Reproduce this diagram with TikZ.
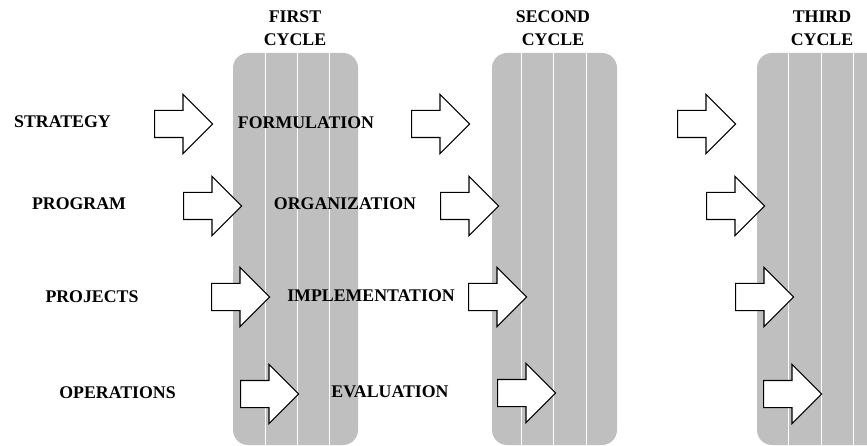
\documentclass[tikz,border=0pt]{standalone}
\usepackage{fontspec}
\setmainfont{Liberation Serif}
\usetikzlibrary{shapes.arrows}

\begin{document}
\begin{tikzpicture}[x=1pt,y=-1pt,
    band/.style={rectangle,rounded corners=15pt,fill=gray!50,
      minimum width=125pt,minimum height=392pt,inner sep=0pt},
    divider/.style={white,line width=0.9pt},
    blockarrow/.style={single arrow,draw=black,fill=white,line width=1.1pt,
      inner sep=0pt,text height=13pt,text depth=13pt,minimum height=58pt,
      single arrow head extend=16pt,single arrow tip angle=90,anchor=tail},
    lbl/.style={font=\fontsize{17.8}{23}\selectfont\bfseries,inner sep=0pt,anchor=base},
    head/.style={font=\fontsize{17.8}{23}\selectfont\bfseries,inner sep=0pt,align=center}]
\useasboundingbox (0,0) rectangle (867,446);
            % Cycles
\node[band] (c1) at (295.5,249) {};
\node[band] (c2) at (554.5,249) {};
\node[band] (c3) at (819.5,249) {};
\draw[divider] (265,53) -- (265,445);
\draw[divider] (297,53) -- (297,445);
\draw[divider] (329,53) -- (329,445);
\draw[divider] (521,53) -- (521,445);
\draw[divider] (553,53) -- (553,445);
\draw[divider] (586,53) -- (586,445);
\draw[divider] (788,53) -- (788,445);
\draw[divider] (821,53) -- (821,445);
\draw[divider] (853,53) -- (853,445);
\node[head] (h1) at (295,28) {FIRST\\CYCLE};
\node[head] (h2) at (553,28) {SECOND\\CYCLE};
\node[head] (h3) at (822,28) {THIRD\\CYCLE};
%Arrows
\node[blockarrow] (a11) at (154,124) {};
\node[blockarrow] (a12) at (411,124) {};
\node[blockarrow] (a13) at (677,124) {};
\node[blockarrow] (a21) at (183,206) {};
\node[blockarrow] (a22) at (440,206) {};
\node[blockarrow] (a23) at (706,206) {};
\node[blockarrow] (a31) at (211,297) {};
\node[blockarrow] (a32) at (468,297) {};
\node[blockarrow] (a33) at (735,297) {};
\node[blockarrow] (a41) at (240,394) {};
\node[blockarrow] (a42) at (497,393) {};
\node[blockarrow] (a43) at (763,394) {};
%Levels
\node[lbl] (strategy) at (62.5,127.5) {STRATEGY};
\node[lbl] (program) at (79,209.5) {PROGRAM};
\node[lbl] (projects) at (92,302.5) {PROJECTS};
\node[lbl] (operations) at (117.5,398.5) {OPERATIONS};
%Phases
\node[lbl] (formulation) at (306,128.5) {FORMULATION};
\node[lbl] (organization) at (345,209.5) {ORGANIZATION};
\node[lbl] (implementation) at (371,301.5) {IMPLEMENTATION};
\node[lbl] (evaluation) at (390,397.5) {EVALUATION};
\end{tikzpicture}
\end{document}
